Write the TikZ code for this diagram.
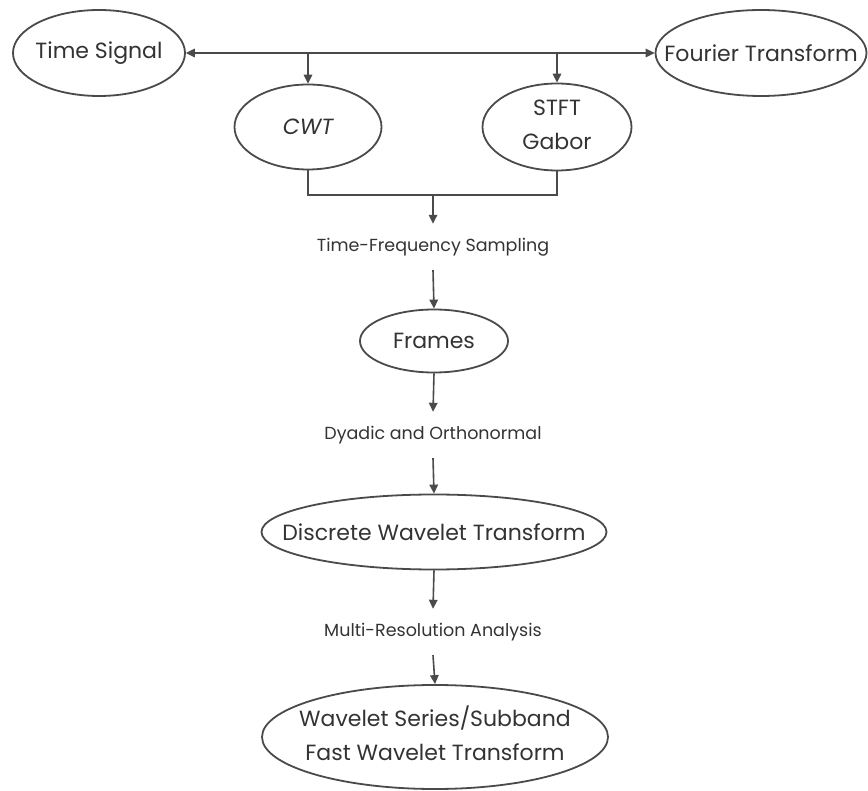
\documentclass[tikz,border=0pt]{standalone}
\usepackage{fontspec}
\setmainfont{Poppins}
\usetikzlibrary{shapes.geometric,arrows.meta}
\definecolor{inkline}{HTML}{4A4A4A}
\definecolor{inktext}{HTML}{333333}
\tikzset{
  oval/.style={draw=inkline, line width=1.8pt, ellipse, inner sep=0pt,
               fill=white, text=inktext, font=\fontsize{22}{26}\selectfont},
  steplabel/.style={inner sep=0pt, minimum height=46pt, text=inktext,
               font=\fontsize{17.5}{21}\selectfont},
  flow/.style={draw=inkline, line width=1.6pt,
               -{Triangle[length=9pt,width=8.5pt]}},
  twoway/.style={draw=inkline, line width=1.6pt,
               {Triangle[length=9pt,width=8.5pt]}-{Triangle[length=9pt,width=8.5pt]}},
  plain/.style={draw=inkline, line width=1.6pt}
}
\begin{document}
\begin{tikzpicture}[x=1pt,y=-1pt]
  \useasboundingbox (0,0) rectangle (868,791);

  % top row
  \node[oval, minimum width=172pt, minimum height=86pt] (ts) at (99,53)
    {\makebox[0pt]{Time Signal}};
  \node[oval, minimum width=211pt, minimum height=86pt] (ft) at (761,53)
    {\makebox[0pt]{Fourier Transform}};

  % continuous transforms
  \node[oval, minimum width=147pt, minimum height=85pt] (cwt) at (308,127)
    {\makebox[0pt]{\itshape CWT}};
  \node[oval, minimum width=149pt, minimum height=87pt] (stft) at (557,127)
    {\makebox[0pt]{\tabular{@{}c@{}}STFT\\[8pt]Gabor\endtabular}};

  % sampling chain
  \node[steplabel] (tfs) at (433,247) {Time-Frequency Sampling};
  \node[oval, minimum width=148pt, minimum height=63pt] (frames) at (434,341)
    {\makebox[0pt]{Frames}};
  \node[steplabel] (dyo) at (433,435) {Dyadic and Orthonormal};
  \node[oval, minimum width=345pt, minimum height=75pt] (dwt) at (434,532)
    {\makebox[0pt]{Discrete Wavelet Transform}};
  \node[steplabel] (mra) at (433,632) {Multi-Resolution Analysis};
  \node[oval, minimum width=346pt, minimum height=104pt] (wss) at (435,737)
    {\makebox[0pt]{\tabular{@{}c@{}}Wavelet Series/Subband\\[8pt]Fast Wavelet Transform\endtabular}};

  % connectors
  \draw[twoway] (ts.east) -- (ft.west);
  \draw[flow] (cwt.north |- ts.east) -- (cwt.north);
  \draw[flow] (stft.north |- ts.east) -- (stft.north);

  \coordinate (join) at (433,195);
  \draw[plain] (cwt.south) -- (cwt.south |- join) -- (stft.south |- join) -- (stft.south);
  \draw[flow] (join) -- (tfs.north);
  \draw[flow] (tfs.south) -- (frames.north);
  \draw[flow] (frames.south) -- (dyo.north);
  \draw[flow] (dyo.south) -- (dwt.north);
  \draw[flow] (dwt.south) -- (mra.north);
  \draw[flow] (mra.south) -- (wss.north);
\end{tikzpicture}
\end{document}
